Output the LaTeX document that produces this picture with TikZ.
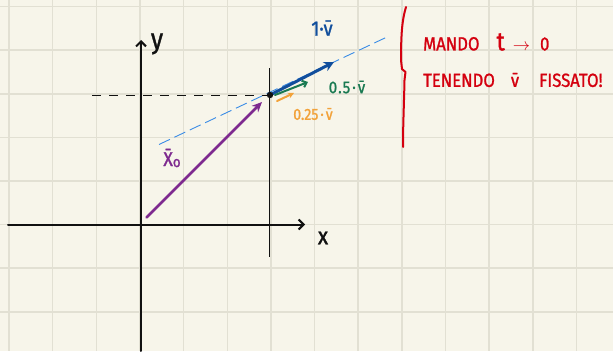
\documentclass[tikz,border=0pt]{standalone}
\usepackage{fontspec}
\setmainfont{Fira Sans}
\newfontfamily\hand{Fira Sans}[FakeStretch=0.88, FakeBold=1.2]
\usetikzlibrary{arrows.meta}
\definecolor{paper}{HTML}{F7F5EA}
\definecolor{gridc}{HTML}{E2E0D3}
\definecolor{inkblack}{HTML}{111111}
\definecolor{purp}{HTML}{7E2A8F}
\definecolor{dblue}{HTML}{114E9C}
\definecolor{dgreen}{HTML}{1A7A52}
\definecolor{orng}{HTML}{F2A23A}
\definecolor{lblue}{HTML}{3A8CE6}
\definecolor{redink}{HTML}{D4000F}
\tikzset{
  gridline/.style={gridc, line width=1.6pt},
  axis/.style={inkblack, line width=2pt, line cap=round, -{Straight Barb[length=5pt,width=10pt,line width=2pt]}},
  vec/.style={line width=#1, line cap=round},
  lbl/.style={inner sep=0pt, font=\hand\fontsize{18}{20}\selectfont},
  redtxt/.style={redink, inner sep=0pt, anchor=west, font=\hand\fontsize{19}{22}\selectfont}
}
\begin{document}
\begin{tikzpicture}[x=1pt,y=-1pt]
\useasboundingbox (0,0) rectangle (613,351);
\fill[paper] (0,0) rectangle (613,351);
% grid
\foreach \k in {0,...,13} {\draw[gridline] ({9+43.66*\k},0) -- ({9+43.66*\k},351);}
\foreach \k in {0,...,7} {\draw[gridline] (0,{6.6+43.6*\k}) -- (613,{6.6+43.6*\k});}
% coordinates
\coordinate (yb) at (141,351);
\coordinate (yt) at (141,40);
\coordinate (xl) at (8,224.5);
\coordinate (xr) at (305,224.5);
\coordinate (vt) at (269.5,68);
\coordinate (vb) at (269.5,257);
\coordinate (hd) at (92,95);
\coordinate (P) at (270,95);
\coordinate (O) at (146.5,217.5);
\coordinate (x0tip) at (262,102);
\coordinate (bl1) at (159,144.5);
\coordinate (bl2) at (387,37);
\coordinate (v1tip) at (334,62);
\coordinate (v5s) at (275,95);
\coordinate (v5tip) at (308,82);
\coordinate (v25s) at (277,101);
\coordinate (v25tip) at (294,93);
% axes
\draw[axis] (yb) -- (yt);
\draw[axis] (xl) -- (xr);
\draw[inkblack, line width=1.3pt] (vt) -- (vb);
\draw[inkblack, line width=0.9pt, dash pattern=on 9pt off 8pt] (hd) -- (P);
% blue dashed construction line
\draw[lblue, line width=0.9pt, dash pattern=on 12pt off 5pt] (bl1) -- (bl2);
% vectors
\draw[purp, vec=2.6pt, -{Stealth[length=10pt,width=9pt]}] (O) -- (x0tip);
\draw[dblue, vec=3pt, -{Stealth[length=10pt,width=10pt]}] (P) -- (v1tip);
\draw[dgreen, vec=2pt, -{Straight Barb[length=4pt,width=7pt,line width=2pt]}] (v5s) -- (v5tip);
\draw[orng, vec=2pt, -{Stealth[length=6pt,width=6pt]}] (v25s) -- (v25tip);
\fill[inkblack] (P) circle (3.2pt);
% labels
\node[lbl, inkblack, font=\hand\fontsize{28}{30}\selectfont] (ylab) at (157,44) {y};
\node[lbl, inkblack, font=\hand\fontsize{24}{26}\selectfont] (xlab) at (323,238) {x};
\node[lbl, purp, font=\hand\fontsize{20}{22}\selectfont] (x0lab) at (172,158) {\={X}\raisebox{-1pt}{\fontsize{15}{16}\selectfont o}};
\node[lbl, dblue, font=\hand\fontsize{21}{23}\selectfont] (v1lab) at (322,28) {1·\={v}};
\node[lbl, dgreen, font=\hand\fontsize{17}{19}\selectfont] (v5lab) at (347,87) {0\hspace{1pt}.\hspace{1pt}5\hspace{2pt}·\hspace{2pt}\={v}};
\node[lbl, orng, font=\hand\fontsize{16}{18}\selectfont] (v25lab) at (313,114) {0.25\hspace{2pt}·\hspace{2pt}\={v}};
% red brace
\draw[redink, line width=2pt, line cap=round, line join=round]
  (406,7) .. controls (402,20) and (401,35) .. (401,60)
  -- (402,69) -- (405.5,72) -- (404.5,80) .. controls (404,105) and (403,125) .. (403,147);
\node[redtxt] (l1) at (423,42) {MANDO\hspace{17pt}{\fontsize{26}{28}\selectfont t}\hspace{8pt}$\rightarrow$\hspace{10pt}0};
\node[redtxt] (l2) at (423,80) {TENENDO\hspace{16pt}\={v}\hspace{20pt}FISSATO!};
\end{tikzpicture}
\end{document}
